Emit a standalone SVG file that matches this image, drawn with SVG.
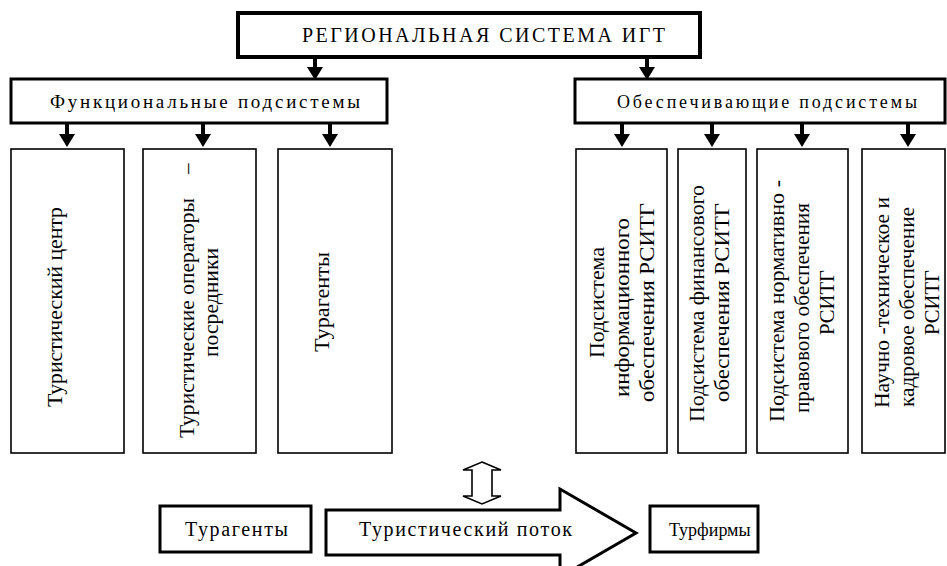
<svg xmlns="http://www.w3.org/2000/svg" width="947" height="566" viewBox="0 0 947 566">
<style>
.thick{fill:#fff;stroke:#000;stroke-width:4}
.mid{fill:#fff;stroke:#000;stroke-width:3}
.thin{fill:#fff;stroke:#000;stroke-width:1.6}
.t{font-family:"Liberation Serif","Times New Roman",serif;fill:#000}
.v{font-family:"Liberation Serif","Times New Roman",serif;font-size:21px;fill:#000}
.sh{stroke:#000;stroke-width:4;fill:none}
.hd{fill:#000}
</style>
<defs>
<g id="arr"><line class="sh" x1="0" y1="0" x2="0" y2="11"/><polygon class="hd" points="-8,10 8,10 0,23"/></g>
</defs>
<g id="connectors">
<use href="#arr" x="315" y="57"/>
<use href="#arr" x="647" y="57"/>
<use href="#arr" x="67" y="124"/>
<use href="#arr" x="203" y="124"/>
<use href="#arr" x="330" y="124"/>
<use href="#arr" x="622" y="124"/>
<use href="#arr" x="712" y="124"/>
<use href="#arr" x="802" y="124"/>
<use href="#arr" x="908" y="124"/>
<path d="M482,462 L501,470 L492,470 L492,496 L501,496 L482,504 L463,496 L472,496 L472,470 L463,470 Z" fill="#fff" stroke="#000" stroke-width="1.6"/>
</g>
<g id="top">
<rect class="thick" x="238" y="13" width="462" height="44"/>
<text class="t" x="302" y="42" font-size="20" textLength="363" lengthAdjust="spacing">РЕГИОНАЛЬНАЯ СИСТЕМА ИГТ</text>
</g>
<g id="func">
<rect class="mid" x="11" y="79" width="376" height="44"/>
<text class="t" x="50" y="108" font-size="19" textLength="310" lengthAdjust="spacing">Функциональные подсистемы</text>
</g>
<g id="obesp">
<rect class="mid" x="575" y="79" width="370" height="44"/>
<text class="t" x="617" y="108" font-size="18" textLength="300" lengthAdjust="spacing">Обеспечивающие подсистемы</text>
</g>
<g id="f1">
<rect class="thin" x="11" y="149" width="113" height="304"/>
<text class="v" transform="translate(62,407) rotate(-90)" textLength="200" lengthAdjust="spacingAndGlyphs">Туристический центр</text>
</g>
<g id="f2">
<rect class="thin" x="143" y="149" width="113" height="304"/>
<text class="v" transform="translate(194,438) rotate(-90)" textLength="240" lengthAdjust="spacingAndGlyphs">Туристические операторы</text>
<text class="v" transform="translate(194,174) rotate(-90)">–</text>
<text class="v" transform="translate(218,357) rotate(-90)" textLength="109" lengthAdjust="spacingAndGlyphs">посредники</text>
</g>
<g id="f3">
<rect class="thin" x="278" y="149" width="114" height="304"/>
<text class="v" transform="translate(329,352) rotate(-90)" textLength="100" lengthAdjust="spacingAndGlyphs">Турагенты</text>
</g>
<g id="s1">
<rect class="thin" x="576" y="149" width="91" height="304"/>
<text class="v" transform="translate(604,358) rotate(-90)" textLength="111" lengthAdjust="spacingAndGlyphs">Подсистема</text>
<text class="v" transform="translate(629,397) rotate(-90)" textLength="179" lengthAdjust="spacingAndGlyphs">информационного</text>
<text class="v" transform="translate(654,402) rotate(-90)" textLength="199" lengthAdjust="spacingAndGlyphs">обеспечения  РСИТГ</text>
</g>
<g id="s2">
<rect class="thin" x="678" y="149" width="68" height="304"/>
<text class="v" transform="translate(704,422) rotate(-90)" textLength="237" lengthAdjust="spacingAndGlyphs">Подсистема  финансового</text>
<text class="v" transform="translate(729,402) rotate(-90)" textLength="199" lengthAdjust="spacingAndGlyphs">обеспечения  РСИТГ</text>
</g>
<g id="s3">
<rect class="thin" x="757" y="149" width="91" height="304"/>
<text class="v" transform="translate(784,422) rotate(-90)" textLength="242" lengthAdjust="spacingAndGlyphs">Подсистема  нормативно -</text>
<text class="v" transform="translate(809,413) rotate(-90)" textLength="210" lengthAdjust="spacingAndGlyphs">правового обеспечения</text>
<text class="v" transform="translate(834,335) rotate(-90)" textLength="65" lengthAdjust="spacingAndGlyphs">РСИТГ</text>
</g>
<g id="s4">
<rect class="thin" x="862" y="149" width="83" height="304"/>
<text class="v" transform="translate(889,408) rotate(-90)" textLength="211" lengthAdjust="spacingAndGlyphs">Научно -техническое и</text>
<text class="v" transform="translate(914,407) rotate(-90)" textLength="200" lengthAdjust="spacingAndGlyphs">кадровое обеспечение</text>
<text class="v" transform="translate(939,335) rotate(-90)" textLength="65" lengthAdjust="spacingAndGlyphs">РСИТГ</text>
</g>
<g id="turagenty">
<rect class="mid" x="160" y="506" width="151" height="46"/>
<text class="t" x="185" y="536" font-size="20" textLength="103" lengthAdjust="spacing">Турагенты</text>
</g>
<g id="flow">
<polygon points="326,510 560,510 560,489 636,533 560,577 560,555 326,555" fill="#fff" stroke="#000" stroke-width="3"/>
<text class="t" x="359" y="536" font-size="20" textLength="213" lengthAdjust="spacing">Туристический поток</text>
</g>
<g id="turfirmy">
<rect class="mid" x="650" y="506" width="108" height="46"/>
<text class="t" x="669" y="536" font-size="18">Турфирмы</text>
</g>
</svg>
